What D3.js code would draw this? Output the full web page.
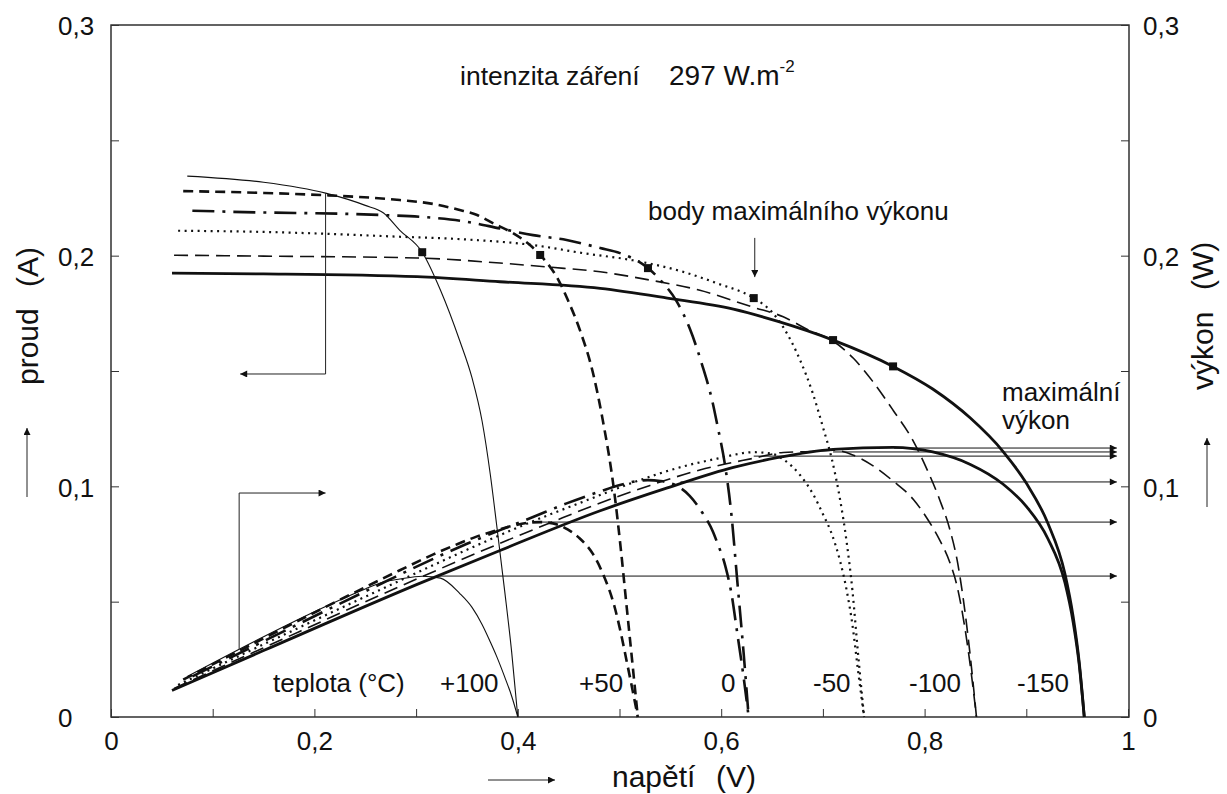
<!DOCTYPE html>
<html>
<head>
<meta charset="utf-8">
<script src="https://cdn.jsdelivr.net/npm/d3@7"></script>
<style>
  body { margin: 0; background: #fff; }
  text { font-family: "Liberation Sans", Arial, sans-serif; fill: #111; }
</style>
</head>
<body>
<div id="chart"></div>
<script>

// teploty (°C)
var temps = ["+100", "+50", "0", "-50", "-100", "-150"];

// napětí (V), proud (A), výkon (W) pro každou teplotu
var v100 = [0.075, 0.15, 0.211, 0.25, 0.268, 0.284, 0.306, 0.324, 0.343, 0.355, 0.365, 0.373, 0.379, 0.387, 0.394, 0.400];
var i100 = [0.2345, 0.2318, 0.2271, 0.2218, 0.2185, 0.211, 0.2015, 0.185, 0.163, 0.147, 0.128, 0.105, 0.084, 0.055, 0.028, 0];
var p100 = [0.0176, 0.0348, 0.0479, 0.0555, 0.0585, 0.0598, 0.0610, 0.0602, 0.0535, 0.0475, 0.0400, 0.0325, 0.0265, 0.0175, 0.0090, 0];

var v50 = [0.071, 0.15, 0.206, 0.284, 0.317, 0.341, 0.360, 0.376, 0.395, 0.412, 0.422, 0.440, 0.449, 0.461, 0.474, 0.483, 0.495, 0.501, 0.507, 0.513, 0.518];
var i50 = [0.228, 0.2272, 0.2263, 0.2241, 0.2224, 0.220, 0.2176, 0.214, 0.2098, 0.2046, 0.2003, 0.1894, 0.181, 0.1678, 0.149, 0.130, 0.097, 0.074, 0.048, 0.022, 0];
var p50 = [0.0162, 0.0341, 0.0466, 0.0636, 0.0705, 0.0750, 0.0783, 0.0805, 0.0829, 0.0843, 0.0845, 0.0833, 0.0813, 0.0774, 0.0706, 0.0628, 0.0480, 0.0371, 0.0243, 0.0113, 0];

var v0 = [0.08, 0.12, 0.2675, 0.317, 0.350, 0.3825, 0.415, 0.448, 0.481, 0.5005, 0.528, 0.540, 0.5565, 0.569, 0.581, 0.592, 0.596, 0.604, 0.610, 0.616, 0.622, 0.627];
var i0 = [0.2195, 0.219, 0.2176, 0.2164, 0.2147, 0.2118, 0.2089, 0.2068, 0.2033, 0.2011, 0.1946, 0.1895, 0.180, 0.1685, 0.153, 0.1355, 0.127, 0.1085, 0.088, 0.058, 0.028, 0];
var p0 = [0.0176, 0.0263, 0.0582, 0.0686, 0.0751, 0.0810, 0.0867, 0.0926, 0.0978, 0.1006, 0.1027, 0.1023, 0.1002, 0.0959, 0.0889, 0.0802, 0.0757, 0.0655, 0.0537, 0.0357, 0.0174, 0];

var vm50 = [0.066, 0.15, 0.284, 0.350, 0.415, 0.464, 0.513, 0.5625, 0.596, 0.632, 0.650, 0.661, 0.6775, 0.690, 0.700, 0.709, 0.717, 0.7235, 0.729, 0.7345, 0.7405];
var im50 = [0.2108, 0.2103, 0.2082, 0.207, 0.2046, 0.2011, 0.198, 0.193, 0.188, 0.1816, 0.1755, 0.169, 0.1548, 0.1404, 0.1257, 0.1114, 0.094, 0.0754, 0.055, 0.0277, 0];
var pm50 = [0.0139, 0.0315, 0.0591, 0.0725, 0.0849, 0.0933, 0.1016, 0.1086, 0.1120, 0.1148, 0.1141, 0.1117, 0.1049, 0.0969, 0.0880, 0.0790, 0.0674, 0.0546, 0.0401, 0.0203, 0];

var vm100 = [0.062, 0.15, 0.301, 0.3825, 0.432, 0.481, 0.53, 0.579, 0.631, 0.661, 0.687, 0.710, 0.730, 0.749, 0.769, 0.789, 0.802, 0.815, 0.825, 0.832, 0.839, 0.845, 0.851];
var im100 = [0.2002, 0.1998, 0.199, 0.1968, 0.195, 0.193, 0.1894, 0.185, 0.1777, 0.1735, 0.1675, 0.163, 0.1555, 0.1455, 0.133, 0.1195, 0.1077, 0.094, 0.081, 0.068, 0.048, 0.026, 0];
var pm100 = [0.0124, 0.0300, 0.0599, 0.0753, 0.0842, 0.0928, 0.1004, 0.1071, 0.1121, 0.1147, 0.1151, 0.1157, 0.1135, 0.1090, 0.1023, 0.0943, 0.0864, 0.0766, 0.0668, 0.0566, 0.0403, 0.0220, 0];

var vm150 = [0.06, 0.15, 0.301, 0.3825, 0.481, 0.547, 0.612, 0.655, 0.710, 0.769, 0.808, 0.845, 0.877, 0.900, 0.921, 0.938, 0.946, 0.952, 0.957];
var im150 = [0.1924, 0.1921, 0.1909, 0.1887, 0.1858, 0.1816, 0.1768, 0.1716, 0.1634, 0.152, 0.1422, 0.1296, 0.1152, 0.1014, 0.0842, 0.0621, 0.0437, 0.0239, 0];
var pm150 = [0.0115, 0.0288, 0.0575, 0.0722, 0.0894, 0.0993, 0.1082, 0.1124, 0.1160, 0.1169, 0.1149, 0.1095, 0.1010, 0.0913, 0.0775, 0.0582, 0.0413, 0.0228, 0];

// body maximálního výkonu
var mppV = [0.306, 0.422, 0.528, 0.632, 0.710, 0.769];
var mppI = [0.2015, 0.2003, 0.1946, 0.1816, 0.1634, 0.152];

// šipky maximálního výkonu (úroveň a začátek)
var maxP = [0.0611, 0.0845, 0.1019, 0.1131, 0.1149, 0.1166];
var maxPStartV = [0.32, 0.42, 0.56, 0.632, 0.71, 0.77];

var xTicks = [0, 0.1, 0.2, 0.3, 0.4, 0.5, 0.6, 0.7, 0.8, 0.9, 1];
var xLabels = [0, 0.2, 0.4, 0.6, 0.8, 1];
var yTicks = [0, 0.05, 0.1, 0.15, 0.2, 0.25, 0.3];
var yLabels = [0, 0.1, 0.2, 0.3];


/*
 * Layout
 */
var W = 1227, H = 794;
var plotL = 111, plotR = 1128, plotT = 25, plotB = 717;

var svg = d3.select("#chart").append("svg")
  .attr("width", W)
  .attr("height", H);

var x = d3.scaleLinear().domain([0, 1]).range([plotL, plotR]);
var y = d3.scaleLinear().domain([0, 0.3]).range([plotB, plotT]);

var fmt = function (d) {
  if (d === 0 || d === 1) return String(d);
  return d3.format(".1f")(d).replace(".", ",");
};

svg.append("defs").append("marker")
  .attr("id", "ah")
  .attr("viewBox", "0 0 10 10")
  .attr("refX", 10).attr("refY", 5)
  .attr("markerWidth", 10).attr("markerHeight", 7)
  .attr("markerUnits", "userSpaceOnUse")
  .attr("orient", "auto")
  .append("path")
  .attr("d", "M0,0L10,5L0,10z")
  .style("fill", "#111");

// frame
svg.append("rect")
  .attr("x", plotL).attr("y", plotT)
  .attr("width", plotR - plotL + 1).attr("height", plotB - plotT)
  .style("fill", "none")
  .style("stroke", "#222")
  .style("stroke-width", 1.4);

// axes (ticks inside)
var gx = svg.append("g").attr("transform", "translate(0," + plotB + ")")
  .call(d3.axisBottom(x).tickValues(xTicks).tickSize(-8).tickPadding(15)
    .tickFormat(function (d) { return xLabels.indexOf(d) >= 0 ? fmt(d) : ""; }));

var gl = svg.append("g").attr("transform", "translate(" + plotL + ",0)")
  .call(d3.axisLeft(y).tickValues(yTicks).tickSize(-8)
    .tickFormat(function (d) { return yLabels.indexOf(d) >= 0 ? fmt(d) : ""; }));

var gr = svg.append("g").attr("transform", "translate(" + (plotR + 1) + ",0)")
  .call(d3.axisRight(y).tickValues(yTicks).tickSize(-8).tickPadding(14)
    .tickFormat(function (d) { return yLabels.indexOf(d) >= 0 ? fmt(d) : ""; }));

[gx, gl, gr].forEach(function (g) {
  g.select(".domain").remove();
  g.selectAll(".tick line").style("stroke", "#333").style("stroke-width", 1);
  g.selectAll(".tick text")
    .style("font-size", "26px")
    .style("font-family", "\"Liberation Sans\", Arial, sans-serif")
    .style("fill", "#111");
});
gl.selectAll(".tick text").attr("text-anchor", "start").attr("x", -53).attr("dy", "0.38em");
gr.selectAll(".tick text").attr("dy", "0.38em");


/*
 * Curves
 */
var styles = [
  { w: 1.1, dash: null },
  { w: 2.6, dash: "10,6" },
  { w: 2.6, dash: "22,8,3,8" },
  { w: 2.2, dash: "2,4.5" },
  { w: 1.6, dash: "14,7" },
  { w: 2.8, dash: null }
];

var volts = [v100, v50, v0, vm50, vm100, vm150];
var currents = [i100, i50, i0, im50, im100, im150];
var powers = [p100, p50, p0, pm50, pm100, pm150];

var line = d3.line()
  .x(function (d) { return x(d[0]); })
  .y(function (d) { return y(d[1]); })
  .curve(d3.curveMonotoneX);

var curveG = svg.append("g");

temps.forEach(function (t, k) {
  var iv = volts[k].map(function (v, j) { return [v, currents[k][j]]; });
  var pv = volts[k].map(function (v, j) { return [v, powers[k][j]]; });
  [iv, pv].forEach(function (pts) {
    curveG.append("path")
      .datum(pts)
      .attr("d", line)
      .style("fill", "none")
      .style("stroke", "#111")
      .style("stroke-width", styles[k].w)
      .style("stroke-dasharray", styles[k].dash);
  });
});

// MPP markers
curveG.selectAll("rect.mpp")
  .data(mppV).enter()
  .append("rect")
  .attr("class", "mpp")
  .attr("x", function (d) { return x(d) - 4; })
  .attr("y", function (d, j) { return y(mppI[j]) - 4; })
  .attr("width", 8).attr("height", 8)
  .style("fill", "#111");

// max power arrows
curveG.selectAll("line.pmax")
  .data(maxP).enter()
  .append("line")
  .attr("class", "pmax")
  .attr("x1", function (d, j) { return x(maxPStartV[j]); })
  .attr("x2", x(0.989))
  .attr("y1", function (d) { return y(d); })
  .attr("y2", function (d) { return y(d); })
  .style("stroke", "#111")
  .style("stroke-width", 1)
  .attr("marker-end", "url(#ah)");


/*
 * Annotations
 */
function arrow(pts) {
  svg.append("path")
    .attr("d", d3.line()(pts))
    .style("fill", "none")
    .style("stroke", "#222")
    .style("stroke-width", 1)
    .attr("marker-end", "url(#ah)");
}

// current / power axis pointers
arrow([[x(0.211), y(0.2271)], [x(0.211), y(0.1487)], [x(0.127), y(0.1487)]]);
arrow([[x(0.126), y(0.0295)], [x(0.126), y(0.0971)], [x(0.211), y(0.0971)]]);
// body maximálního výkonu
arrow([[x(0.633), y(0.2077)], [x(0.633), y(0.1907)]]);
// axis direction arrows
arrow([[27, 497], [27, 428]]);
arrow([[1207, 507], [1207, 438]]);
arrow([[488, 780], [555, 780]]);

function label(txt, px, py, size) {
  return svg.append("text")
    .attr("x", px).attr("y", py)
    .style("font-size", size + "px")
    .style("white-space", "pre")
    .text(txt);
}

label("intenzita záření", 460, 85, 26.5);
var unit = label("297 W.m", 669, 85, 28);
unit.append("tspan")
  .attr("dy", -13)
  .style("font-size", "17px")
  .text("-2");
label("body maximálního výkonu", 648, 220, 26);
label("maximální", 1002, 401, 26);
label("výkon", 1002, 429, 26);

label("teplota (°C)", 273, 692, 26);
var tempLabelX = [440, 579, 721, 813, 909, 1017];
temps.forEach(function (t, k) {
  label(t, tempLabelX[k], 692, 26);
});

// axis titles
label("napětí", 612, 787, 30);
label("(V)", 716, 787, 30);

svg.append("text")
  .attr("transform", "translate(38,385) rotate(-90)")
  .style("font-size", "30px")
  .text("proud");
svg.append("text")
  .attr("transform", "translate(38,287) rotate(-90)")
  .style("font-size", "30px")
  .text("(A)");

svg.append("text")
  .attr("transform", "translate(1213,390) rotate(-90)")
  .style("font-size", "30px")
  .text("výkon");
svg.append("text")
  .attr("transform", "translate(1213,290) rotate(-90)")
  .style("font-size", "30px")
  .text("(W)");

</script>
</body>
</html>
